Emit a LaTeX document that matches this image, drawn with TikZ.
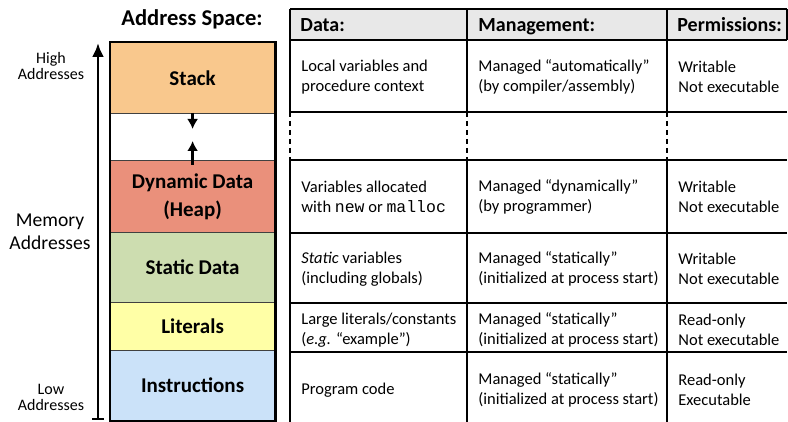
\documentclass[tikz,border=0pt]{standalone}
\usepackage{fontspec}
\setmainfont{Carlito}
\newfontfamily\codefont{Liberation Mono}
\usetikzlibrary{arrows.meta}

\definecolor{stackcol}{HTML}{F9C88D}
\definecolor{heapcol}{HTML}{EA907B}
\definecolor{staticcol}{HTML}{CDDDB0}
\definecolor{litcol}{HTML}{FFFFA6}
\definecolor{instcol}{HTML}{CBE2F9}
\definecolor{headgray}{HTML}{E8E8E8}

\begin{document}
\begin{tikzpicture}[x=0.5pt, y=-0.5pt,
  seg/.style={draw=black!75, line width=0.6pt, anchor=north west, inner sep=0pt, minimum width=82pt, align=center, font=\fontsize{10.5}{14}\selectfont\bfseries},
  cell/.style={anchor=west, inner sep=0pt, align=left, font=\fontsize{8.25}{10.25}\selectfont},
  headcell/.style={anchor=base west, inner sep=0pt, font=\fontsize{10}{12}\selectfont\bfseries},
  sidelabel/.style={align=center, inner sep=0pt, font=\fontsize{8}{8}\selectfont},
  tabline/.style={line width=0.6pt},
  smallarrow/.style={-{Latex[length=5pt, width=5.5pt]}, line width=1.4pt}]

\useasboundingbox (0,0) rectangle (788,422);

% address space
\node[font=\fontsize{11.3}{13}\selectfont\bfseries] (title) at (192, 19) {Address Space:};

\node[seg, fill=stackcol, minimum height=35.5pt] (stack) at (110, 42) {Stack};
\node[seg, fill=white, minimum height=23.5pt] (gap) at (110, 113) {};
\node[seg, fill=heapcol, minimum height=36pt] (heap) at (110, 160) {Dynamic Data\\(Heap)};
\node[seg, fill=staticcol, minimum height=35pt] (static) at (110, 232) {Static Data};
\node[seg, fill=litcol, minimum height=24pt] (literals) at (110, 302) {Literals};
\node[seg, fill=instcol, minimum height=35pt] (instr) at (110, 350) {Instructions};

\draw[line width=1.3pt] (stack.north west) rectangle (instr.south east);

\draw[smallarrow] (gap.north) -- +(0, 16);
\draw[smallarrow] ([yshift=-2.5pt]heap.north) -- +(0, -24);

% memory addresses
\node[sidelabel] (high) at (51, 66) {High\\Addresses};
\node[sidelabel, font=\fontsize{9.8}{11.5}\selectfont] (memory) at (50, 232) {Memory\\Addresses};
\node[sidelabel] (low) at (51, 397) {Low\\Addresses};

\coordinate (atop) at (98, 43);
\coordinate (abot) at (98, 419);
\draw[-{Latex[length=7pt, width=6pt]}, line width=1.4pt] (abot) -- (atop);
\draw[line width=1.4pt] (abot) ++(-6, 0) -- ++(12, 0);

% table
\fill[headgray] (290, 9) rectangle (787, 40);

\draw[tabline] (290, 9) -- (787, 9);
\draw[tabline] (290, 40) -- (787, 40);
\draw[tabline] (290, 112) -- (787, 112);
\draw[tabline] (290, 160) -- (787, 160);
\draw[tabline] (290, 233) -- (787, 233);
\draw[tabline] (290, 303) -- (787, 303);
\draw[tabline] (290, 352) -- (787, 352);

\draw[tabline] (290, 9) -- (290, 112);
\draw[tabline] (467, 9) -- (467, 112);
\draw[tabline] (667, 9) -- (667, 112);
\draw[tabline] (787, 9) -- (787, 40);

\draw[tabline, dash pattern=on 2.5pt off 2pt] (290, 112) -- (290, 160);
\draw[tabline, dash pattern=on 2.5pt off 2pt] (467, 112) -- (467, 160);
\draw[tabline, dash pattern=on 2.5pt off 2pt] (667, 112) -- (667, 160);

\draw[tabline] (290, 160) -- (290, 422);
\draw[tabline] (467, 160) -- (467, 422);
\draw[tabline] (667, 160) -- (667, 422);

\node[headcell] (hdata) at (300, 31.5) {Data:};
\node[headcell] (hmgmt) at (478, 31.5) {Management:};
\node[headcell] (hperm) at (677, 31.5) {Permissions:};

\node[cell] (d1) at (301, 77) {Local variables and\\procedure context};
\node[cell] (m1) at (478, 77) {Managed “automatically”\\(by compiler/assembly)};
\node[cell] (p1) at (678, 77) {Writable\\Not executable};

\node[cell] (d2) at (301, 197) {Variables allocated\\with {\codefont new} or {\codefont malloc}};
\node[cell] (m2) at (478, 197) {Managed “dynamically”\\(by programmer)};
\node[cell] (p2) at (678, 197) {Writable\\Not executable};

\node[cell] (d3) at (301, 269) {\textit{Static} variables\\(including globals)};
\node[cell] (m3) at (478, 269) {Managed “statically”\\(initialized at process start)};
\node[cell] (p3) at (678, 269) {Writable\\Not executable};

\node[cell] (d4) at (301, 330) {Large literals/constants\\(\textit{e.g.} “example”)};
\node[cell] (m4) at (478, 330) {Managed “statically”\\(initialized at process start)};
\node[cell] (p4) at (678, 330) {Read-only\\Not executable};

\node[cell] (d5) at (301, 390) {Program code};
\node[cell] (m5) at (478, 390) {Managed “statically”\\(initialized at process start)};
\node[cell] (p5) at (678, 390) {Read-only\\Executable};

\end{tikzpicture}
\end{document}
